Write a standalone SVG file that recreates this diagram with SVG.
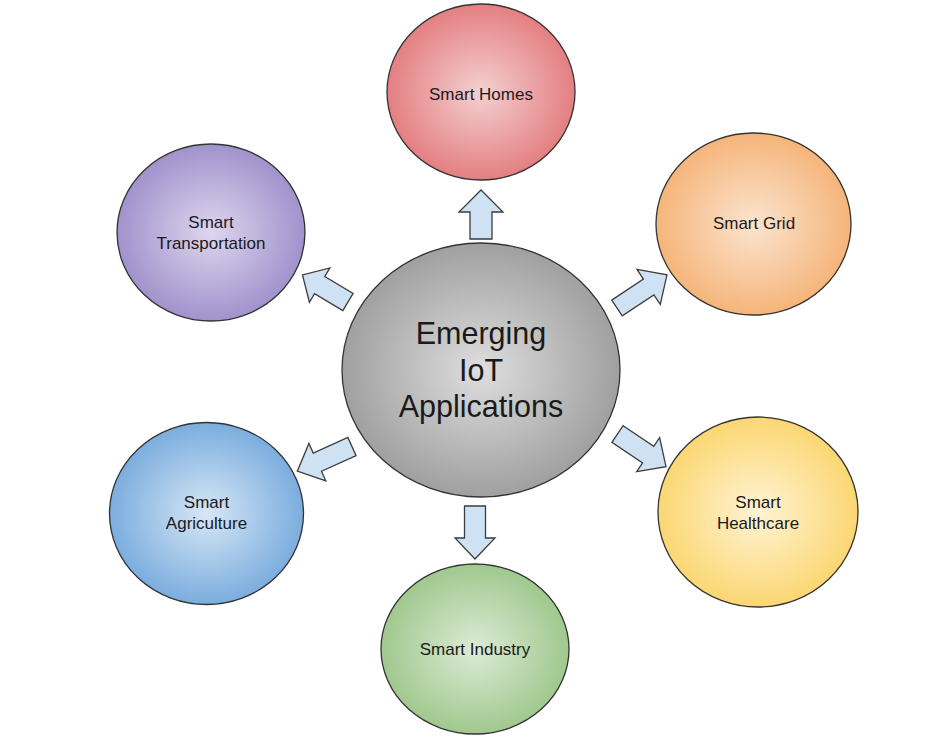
<svg xmlns="http://www.w3.org/2000/svg" width="949" height="747" viewBox="0 0 949 747">
<defs>
<radialGradient id="gRed" cx="50%" cy="50%" r="50%"><stop offset="0" stop-color="#f4d0d1"/><stop offset="1" stop-color="#e47f82"/></radialGradient>
<radialGradient id="gOrange" cx="50%" cy="50%" r="50%"><stop offset="0" stop-color="#fbe4cf"/><stop offset="1" stop-color="#f5b57a"/></radialGradient>
<radialGradient id="gYellow" cx="50%" cy="50%" r="50%"><stop offset="0" stop-color="#fff3d4"/><stop offset="1" stop-color="#fbd773"/></radialGradient>
<radialGradient id="gGreen" cx="50%" cy="50%" r="50%"><stop offset="0" stop-color="#dcebd6"/><stop offset="1" stop-color="#a0c88e"/></radialGradient>
<radialGradient id="gBlue" cx="50%" cy="50%" r="50%"><stop offset="0" stop-color="#d6e7f6"/><stop offset="1" stop-color="#7badde"/></radialGradient>
<radialGradient id="gPurple" cx="50%" cy="50%" r="50%"><stop offset="0" stop-color="#ddd6ee"/><stop offset="1" stop-color="#a192cc"/></radialGradient>
<radialGradient id="gGray" cx="50%" cy="50%" r="50%"><stop offset="0" stop-color="#dedede"/><stop offset="1" stop-color="#a0a0a0"/></radialGradient>
</defs>
<style>
.node{stroke:#333333;stroke-width:1.3}
.lbl{font-family:"Liberation Sans",Arial,sans-serif;font-size:17px;fill:#1a1a1a;text-anchor:middle}
.big{font-family:"Liberation Sans",Arial,sans-serif;font-size:30.5px;fill:#1a1a1a;text-anchor:middle}
.arr{fill:#cfe2f3;stroke:#3d3d3d;stroke-width:1.3;stroke-linejoin:miter}
</style>
<rect width="949" height="747" fill="#ffffff"/>
<g id="connectors">
<path class="arr" transform="translate(481,239) rotate(-90)" d="M0,-11 H27 V-22 L49,0 L27,22 V11 H0 Z"/>
<path class="arr" transform="translate(475,506) rotate(90)" d="M0,-10.5 H32 V-20 L53,0 L32,20 V10.5 H0 Z"/>
<path class="arr" transform="translate(348,302) rotate(210.8)" d="M0,-10 H33 V-20 L53,0 L33,20 V10 H0 Z"/>
<path class="arr" transform="translate(617,308) rotate(-33.6)" d="M0,-9.5 H38 V-21 L60,0 L38,21 V9.5 H0 Z"/>
<path class="arr" transform="translate(352,446.5) rotate(155.7)" d="M0,-10 H38 V-20.5 L60,0 L38,20.5 V10 H0 Z"/>
<path class="arr" transform="translate(617.5,434) rotate(34)" d="M0,-10 H37 V-20.5 L58.5,0 L37,20.5 V10 H0 Z"/>
</g>
<g id="center">
<ellipse class="node" cx="481" cy="370" rx="139" ry="127" fill="url(#gGray)"/>
<text class="big" x="481" y="344">Emerging</text>
<text class="big" x="481" y="381">IoT</text>
<text class="big" x="481" y="417">Applications</text>
</g>
<g id="smart-homes">
<ellipse class="node" cx="481" cy="92" rx="94" ry="88" fill="url(#gRed)"/>
<text class="lbl" x="481" y="100">Smart Homes</text>
</g>
<g id="smart-grid">
<ellipse class="node" cx="753.5" cy="224" rx="97.5" ry="91" fill="url(#gOrange)"/>
<text class="lbl" x="754" y="229">Smart Grid</text>
</g>
<g id="smart-healthcare">
<ellipse class="node" cx="758" cy="512" rx="100" ry="95" fill="url(#gYellow)"/>
<text class="lbl" x="758" y="508">Smart</text>
<text class="lbl" x="758" y="529">Healthcare</text>
</g>
<g id="smart-industry">
<ellipse class="node" cx="475" cy="649" rx="94" ry="85" fill="url(#gGreen)"/>
<text class="lbl" x="475" y="655">Smart Industry</text>
</g>
<g id="smart-agriculture">
<ellipse class="node" cx="206.5" cy="513.5" rx="97" ry="91" fill="url(#gBlue)"/>
<text class="lbl" x="206.5" y="508">Smart</text>
<text class="lbl" x="206.5" y="529">Agriculture</text>
</g>
<g id="smart-transportation">
<ellipse class="node" cx="211" cy="232.5" rx="94" ry="88.5" fill="url(#gPurple)"/>
<text class="lbl" x="211" y="228">Smart</text>
<text class="lbl" x="211" y="249">Transportation</text>
</g>
</svg>
